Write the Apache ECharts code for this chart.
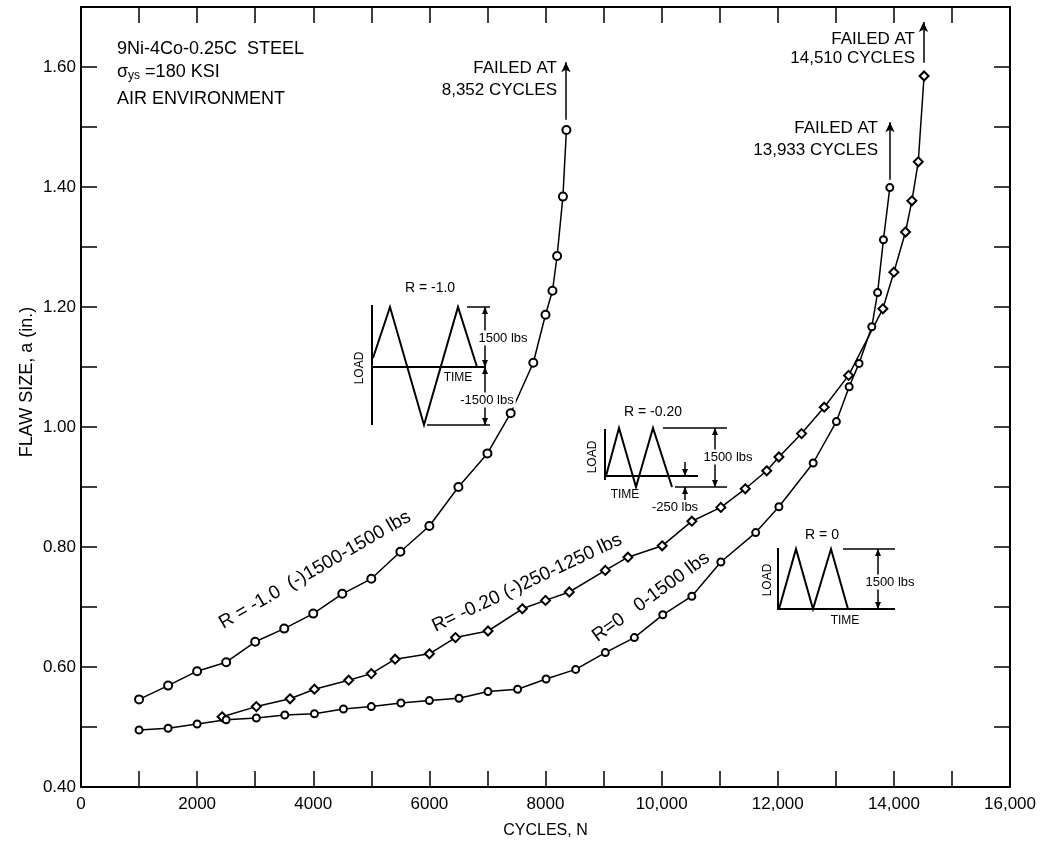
<!DOCTYPE html>
<html>
<head>
<meta charset="utf-8">
<script src="https://cdn.jsdelivr.net/npm/echarts@6/dist/echarts.min.js"></script>
<style>
html,body{margin:0;padding:0;background:#fff;}
#chart{width:1047px;height:845px;}
</style>
</head>
<body>
<div id="chart"></div>
<script>
// ---- data ----
const seriesNames = ['R = -1.0', 'R = -0.20', 'R = 0'];
const cyclesRm1 = [1000,1500,2000,2500,3000,3500,4000,4500,5000,5500,6000,6500,7000,7400,7790,8000,8120,8200,8300,8360];
const flawRm1   = [0.546,0.569,0.593,0.608,0.642,0.664,0.689,0.722,0.747,0.792,0.835,0.900,0.956,1.023,1.107,1.187,1.227,1.285,1.384,1.495];
const cyclesRm02 = [2430,3020,3600,4020,4610,5000,5410,6000,6450,7010,7600,8000,8410,9030,9420,10010,10520,11020,11440,11810,12020,12410,12800,13220,13810,14000,14200,14310,14420,14520];
const flawRm02   = [0.517,0.534,0.547,0.563,0.578,0.589,0.613,0.622,0.649,0.660,0.697,0.711,0.725,0.761,0.783,0.802,0.843,0.866,0.897,0.927,0.950,0.989,1.033,1.086,1.197,1.258,1.325,1.377,1.442,1.585];
const cyclesR0 = [1000,1500,2000,2500,3020,3510,4020,4520,5000,5510,6000,6510,7010,7520,8010,8520,9030,9530,10020,10520,11020,11620,12020,12610,13010,13230,13400,13620,13720,13820,13930];
const flawR0   = [0.495,0.498,0.505,0.512,0.515,0.520,0.522,0.530,0.534,0.540,0.544,0.548,0.559,0.563,0.580,0.596,0.624,0.649,0.687,0.718,0.775,0.824,0.867,0.940,1.009,1.067,1.106,1.167,1.224,1.312,1.399];
const failedCycles = [8352, 14510, 13933];
const failedLabels = ['8,352', '14,510', '13,933'];
const failArrowFrom = [1.512, 1.607, 1.412];
const failArrowTo   = [1.608, 1.675, 1.508];
const xTickLabels = ['0','2000','4000','6000','8000','10,000','12,000','14,000','16,000'];
const yTickLabels = ['0.40','0.60','0.80','1.00','1.20','1.40','1.60'];
const curveLabels = ['R = -1.0  (-)1500-1500 lbs', 'R= -0.20 (-)250-1250 lbs', 'R=0   0-1500 lbs'];

const FONT = '"Liberation Sans", Arial, sans-serif';
const pair = (xs, ys) => xs.map((x, i) => [x, ys[i]]);

function xLab(v){ const n = Math.round(v/1000); return n % 2 === 0 ? (xTickLabels[n/2] || '') : ''; }
function yLab(v){ const n = Math.round(v*10); return n % 2 === 0 ? (yTickLabels[(n-4)/2] || '') : ''; }

const baseX = {type:'value', min:0, max:16000, interval:1000, splitLine:{show:false},
  axisLine:{show:true, onZero:false, lineStyle:{color:'#000', width:2}},
  axisTick:{show:true, inside:true, length:16, lineStyle:{color:'#000', width:1.5}}};
const baseY = {type:'value', min:0.4, max:1.7, interval:0.1, splitLine:{show:false},
  axisLine:{show:true, onZero:false, lineStyle:{color:'#000', width:2}},
  axisTick:{show:true, inside:true, length:16, lineStyle:{color:'#000', width:1.5}}};

function arrowML(i){
  return {silent:true, symbol:['none','arrow'], symbolSize:9, label:{show:false},
    lineStyle:{color:'#000', width:1.5, type:'solid'},
    emphasis:{disabled:true},
    data:[[{coord:[failedCycles[i], failArrowFrom[i]], symbol:'none'},{coord:[failedCycles[i], failArrowTo[i]], symbol:'arrow', symbolSize:[7,10]}]]};
}
function mkSeries(name, data, symbol, size, i){
  return {name, type:'line', data, symbol, symbolSize:size, smooth:false,
    lineStyle:{color:'#000', width:1.5}, itemStyle:{color:'#000', borderColor:'#000', borderWidth:1.5},
    markLine: arrowML(i), z:3};
}

// ---- decorative graphics (inset load diagrams & annotations) ----
const g = [];
function ln(x1,y1,x2,y2,w){ g.push({type:'line', silent:true, shape:{x1,y1,x2,y2}, style:{stroke:'#000', lineWidth:w||1.5}}); }
function pl(points,w){ g.push({type:'polyline', silent:true, shape:{points}, style:{stroke:'#000', fill:null, lineWidth:w||2}}); }
function ah(x,y,dir){ // arrowhead tip at (x,y)
  const d = dir==='up' ? 1 : -1;
  g.push({type:'polygon', silent:true, shape:{points:[[x,y],[x-3,y+7*d],[x+3,y+7*d]]}, style:{fill:'#000'}});
}
function tx(t,x,y,size,opt){
  opt = opt || {};
  const st = {text:t, fill:'#000', font: (opt.weight||'normal')+' '+size+'px '+FONT,
    textAlign:opt.align||'center', textVerticalAlign:'middle'};
  if (opt.bg) { st.backgroundColor = '#fff'; st.padding = [1,2]; }
  if (opt.rich) st.rich = opt.rich;
  g.push({type:'text', silent:true, x, y, rotation:opt.rot||0, style:st, z:10});
}

// title block
tx('9Ni-4Co-0.25C  STEEL', 117, 49, 18, {align:'left'});
tx('{s|σ}{sub|ys}{s| =180 KSI}', 117, 72, 18, {align:'left', rich:{s:{fontSize:18, fontFamily:FONT}, sub:{fontSize:12, fontFamily:FONT, verticalAlign:'bottom', padding:[8,0,0,0]}}});
tx('AIR ENVIRONMENT', 117, 99, 18, {align:'left'});

// failure notes
tx('FAILED AT', 557, 68, 17, {align:'right'});
tx(failedLabels[0]+' CYCLES', 557, 90, 17, {align:'right'});
tx('FAILED AT', 915, 39, 17, {align:'right'});
tx(failedLabels[1]+' CYCLES', 915, 58, 17, {align:'right'});
tx('FAILED AT', 878, 128, 17, {align:'right'});
tx(failedLabels[2]+' CYCLES', 878, 150, 17, {align:'right'});

// curve labels
tx(curveLabels[0], 315, 570, 19, {rot:30*Math.PI/180});
tx(curveLabels[1], 527, 583, 19, {rot:25.3*Math.PI/180});
tx(curveLabels[2], 651, 597, 19, {rot:36*Math.PI/180});

// inset R = -1.0
tx('R = -1.0', 430, 288, 14);
ln(372,305,372,425,2); ln(372,367,486,367,2);
pl([[373,358],[390,307],[424,425],[458,307],[477,367]],2);
ln(467,307,490,307); ln(427,425,490,425);
ln(485,307,485,425,1.5);
ah(485,307,'up'); ah(485,367,'down'); ah(485,367,'up'); ah(485,425,'down');
tx('1500 lbs', 503, 338, 13, {bg:true});
tx('-1500 lbs', 487, 400, 13, {bg:true});
tx('TIME', 458, 378, 12);
tx('LOAD', 360, 368, 12, {rot:Math.PI/2});

// inset R = -0.20
tx('R = -0.20', 653, 412, 14);
ln(605,429,605,480,2); ln(605,476,698,476,2);
pl([[606,476],[619,428],[636,487],[653,428],[672,487]],2);
ln(663,428,727,428); ln(675,487,727,487);
ln(715,428,715,487,1.5); ah(715,428,'up'); ah(715,487,'down');
ln(685,462,685,476); ah(685,476,'down');
ln(685,487,685,500); ah(685,487,'up');
tx('1500 lbs', 728, 457, 13, {bg:true});
tx('TIME', 625, 495, 12);
tx('-250 lbs', 675, 507, 13);
tx('LOAD', 593, 457, 12, {rot:Math.PI/2});

// inset R = 0
tx('R = 0', 822, 535, 14);
ln(778,548,778,610,2); ln(778,609,895,609,2);
pl([[779,609],[796,549],[813,609],[831,549],[848,609]],2);
ln(843,549,895,549);
ln(878,549,878,609,1.5); ah(878,549,'up'); ah(878,609,'down');
tx('1500 lbs', 890, 582, 13, {bg:true});
tx('TIME', 845, 621, 12);
tx('LOAD', 768, 580, 12, {rot:Math.PI/2});

const option = {
  backgroundColor:'#fff',
  animation:false,
  textStyle:{fontFamily:FONT},
  grid:{left:81, right:37, top:7, bottom:58, containLabel:false},
  xAxis:[
    Object.assign({}, baseX, {position:'bottom', name:'CYCLES, N', nameLocation:'middle', nameGap:36,
      nameTextStyle:{color:'#000', fontSize:16, fontFamily:FONT},
      axisLabel:{show:true, color:'#000', fontSize:17, fontFamily:FONT, margin:9, formatter:xLab}}),
    Object.assign({}, baseX, {position:'top', axisLabel:{show:false}})
  ],
  yAxis:[
    Object.assign({}, baseY, {position:'left', name:'FLAW SIZE, a (in.)', nameLocation:'middle', nameGap:45,
      nameMoveOverlap:false,
      nameTextStyle:{color:'#000', fontSize:18, fontFamily:FONT, padding:[0,0,0,30]},
      axisLabel:{show:true, color:'#000', fontSize:17, fontFamily:FONT, margin:5, formatter:yLab}}),
    Object.assign({}, baseY, {position:'right', axisLabel:{show:false}})
  ],
  series:[
    mkSeries(seriesNames[0], pair(cyclesRm1, flawRm1), 'emptyCircle', 8, 0),
    mkSeries(seriesNames[1], pair(cyclesRm02, flawRm02), 'emptyDiamond', 9, 1),
    mkSeries(seriesNames[2], pair(cyclesR0, flawR0), 'emptyCircle', 7, 2)
  ],
  graphic: g
};

const chart = echarts.init(document.getElementById('chart'), null, {renderer:'canvas'});
chart.setOption(option);
</script>
</body>
</html>
